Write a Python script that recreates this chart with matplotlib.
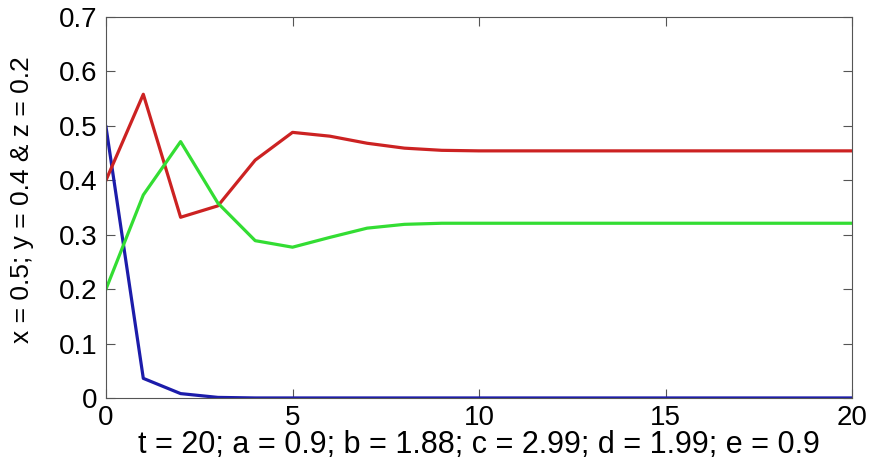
import matplotlib.pyplot as plt

t = list(range(21))
x_vals = [0.498, 0.036, 0.008, 0.001, 0.0, 0.0, 0.0, 0.0, 0.0, 0.0, 0.0,
          0.0, 0.0, 0.0, 0.0, 0.0, 0.0, 0.0, 0.0, 0.0, 0.0]
y_vals = [0.40, 0.558, 0.332, 0.353, 0.437, 0.488, 0.481, 0.468, 0.459, 0.455, 0.454,
          0.454, 0.454, 0.454, 0.454, 0.454, 0.454, 0.454, 0.454, 0.454, 0.454]
z_vals = [0.20, 0.373, 0.471, 0.358, 0.289, 0.277, 0.295, 0.312, 0.319, 0.321, 0.321,
          0.321, 0.321, 0.321, 0.321, 0.321, 0.321, 0.321, 0.321, 0.321, 0.321]

xticks = [0, 5, 10, 15, 20]
yticks = [0, 0.1, 0.2, 0.3, 0.4, 0.5, 0.6, 0.7]


def main():
    plt.rcParams['font.family'] = ['Liberation Sans', 'DejaVu Sans']
    fig = plt.figure(figsize=(8.71, 4.59), dpi=100)
    ax = fig.add_axes([0.1217, 0.133, 0.8565, 0.83])

    ax.plot(t, x_vals, color='#1c1caa', lw=2.3)
    ax.plot(t, y_vals, color='#cc2222', lw=2.3)
    ax.plot(t, z_vals, color='#33dd33', lw=2.3)

    ax.set_xlim(0, 20)
    ax.set_ylim(0, 0.7)
    ax.set_xticks(xticks)
    ax.set_yticks(yticks)
    ax.set_yticklabels(["0" if v == 0 else f"{v:.1f}" for v in yticks])
    ax.tick_params(direction='in', top=True, right=True, labelsize=20, length=6.5,
                   color='#555555')
    ax.tick_params(axis='y', pad=6)
    ax.tick_params(axis='x', pad=5)
    for s in ax.spines.values():
        s.set_color('#555555')

    ax.set_xlabel("t = 20; a = 0.9; b = 1.88; c = 2.99; d = 1.99; e = 0.9",
                  fontsize=22, labelpad=-1)
    ax.set_ylabel("x = 0.5; y = 0.4 & z = 0.2", fontsize=19)
    ax.yaxis.set_label_coords(-0.097, 0.52)

    fig.savefig("out.png", dpi=100)


if __name__ == "__main__":
    main()
